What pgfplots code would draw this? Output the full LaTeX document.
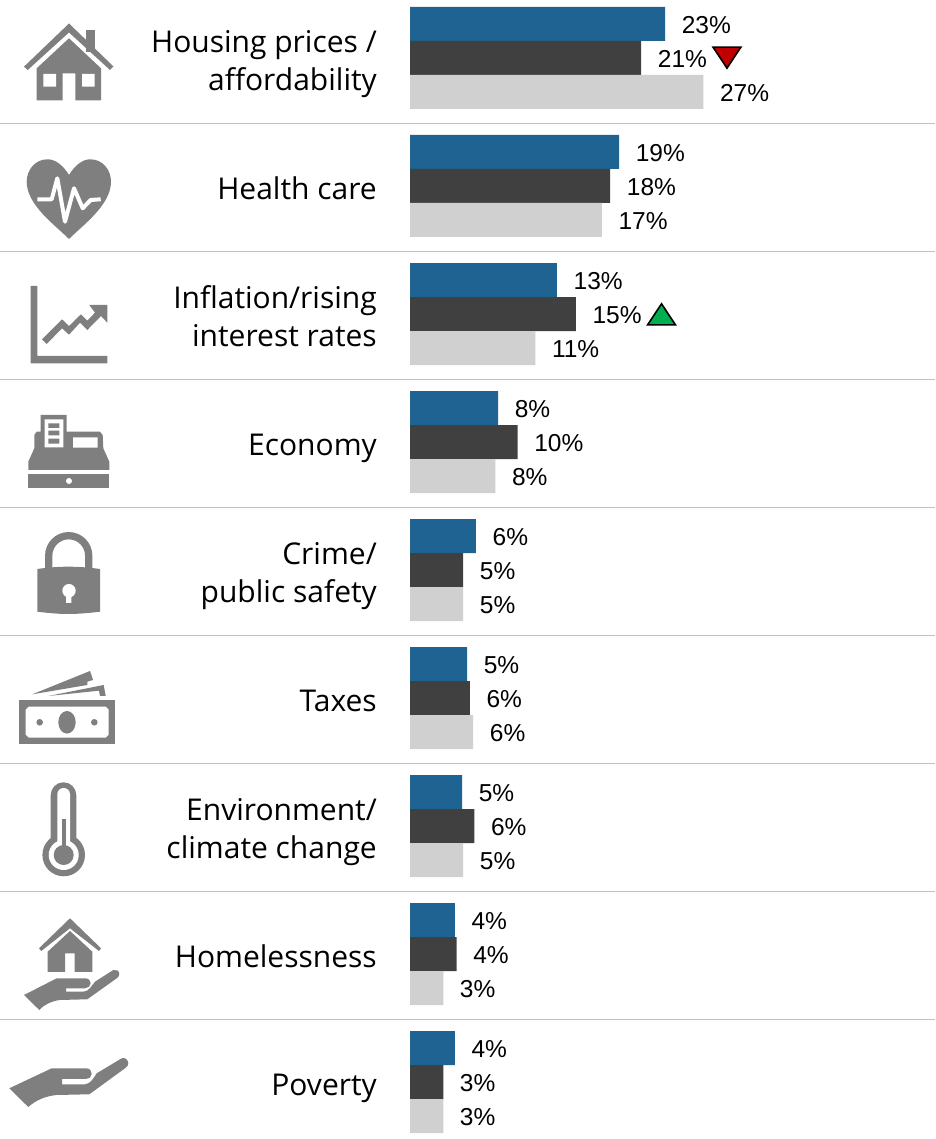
\documentclass[border=0pt]{standalone}
\usepackage{fontspec}
\setmainfont{Open Sans}
\newfontfamily\valfont{Liberation Sans}
\usepackage{pgfplots}
\usepackage{pgfplotstable}
\pgfplotsset{compat=1.18}

\definecolor{barblue}{HTML}{1F6392}
\definecolor{bardark}{HTML}{404040}
\definecolor{barlight}{HTML}{D0D0D0}
\definecolor{icongray}{HTML}{7F7F7F}
\definecolor{seprule}{HTML}{BFBFBF}
\definecolor{downred}{HTML}{C00000}
\definecolor{upgreen}{HTML}{00B050}

% bar length, position, printed label
\pgfplotstableread{
val pos lab
23.0 0 23
18.85 1 19
13.25 2 13
7.95 3 8
5.95 4 6
5.15 5 5
4.7 6 5
4.05 7 4
4.05 8 4
}\firstseries
\pgfplotstableread{
val pos lab
20.85 0 21
18.05 1 18
14.95 2 15
9.7 3 10
4.8 4 5
5.4 5 6
5.8 6 6
4.2 7 4
3.0 8 3
}\secondseries
\pgfplotstableread{
val pos lab
26.45 0 27
17.3 1 17
11.3 2 11
7.7 3 8
4.8 4 5
5.7 5 6
4.8 6 5
3.0 7 3
3.0 8 3
}\thirdseries

\begin{document}
\begin{tikzpicture}
\path[use as bounding box] (0,0) rectangle (935pt,1139pt);
\begin{axis}[
    at={(0,0)}, anchor=south west,
    scale only axis, width=935pt, height=1139pt,
    xmin=-36.97, xmax=47.34,
    ymin=-0.453, ymax=8.445, y dir=reverse,
    xbar, bar width=34pt,
    clip=false,
    axis x line=none,
    y axis line style={draw=none},
    major tick length=0pt,
    ytick={0,...,8},
    yticklabels={{\strut Housing prices /\\\strut affordability},\strut Health care,{\strut Inflation/rising\\\strut interest rates},\strut Economy,{\strut Crime/\\\strut public safety},\strut Taxes,{\strut Environment/\\\strut climate change},\strut Homelessness,\strut Poverty},
    yticklabel style={anchor=east, xshift=377pt, align=right, inner sep=0pt, font=\fontsize{30pt}{38pt}\selectfont, yshift=-5.5pt},
    point meta=explicit symbolic,
    nodes near coords={\pgfplotspointmeta\%},
    nodes near coords style={anchor=west, xshift=16.5pt, yshift=-1.5pt, inner sep=0pt, font=\valfont\fontsize{24.5pt}{26pt}\selectfont},
]
\addplot[draw=none, fill=barblue, bar shift=34pt] table[x=val, y=pos, meta=lab] {\firstseries};
\addplot[draw=none, fill=bardark, bar shift=0pt] table[x=val, y=pos, meta=lab] {\secondseries};
\addplot[draw=none, fill=barlight, bar shift=-34pt] table[x=val, y=pos, meta=lab] {\thirdseries};
% change markers
\addplot[xbar=false, only marks, nodes near coords={}, mark=triangle*, mark size=14pt,
    mark options={draw=black, line width=1.6pt, fill=downred, rotate=180, xscale=1.15}]
    coordinates {(28.58,-0.03)};
\addplot[xbar=false, only marks, nodes near coords={}, mark=triangle*, mark size=14pt,
    mark options={draw=black, line width=1.6pt, fill=upgreen, xscale=1.15}]
    coordinates {(22.68,2.03)};
\end{axis}

% separators and icons, in picture pixels from the top left
\begin{scope}[shift={(0,1139pt)}, x=1pt, y=-1pt]
\foreach \yy in {123.5,251.5,379.5,507.5,635.5,763.5,891.5,1019.5}
    \draw[seprule, line width=1.2pt] (0,\yy) -- (935,\yy);

% house
\fill[icongray] (69,23.5) -- (113.5,66.5) -- (110,70) -- (69,32.5) -- (27.7,70) -- (24,66.7) -- cycle;
\fill[icongray] (86,30) rectangle (94.7,52);
\fill[icongray] (69,38.3) -- (101,68.3) -- (101,100.3) -- (75.3,100.3) -- (75.3,73.3) -- (62.7,73.3) -- (62.7,100.3) -- (36.7,100.3) -- (36.7,68.3) -- cycle;
\fill[white] (43.3,74) rectangle (56,86.7) (82,74) rectangle (94.7,86.7);

% heart with pulse
\fill[icongray] (69,175) .. controls (63,165) and (55,159.3) .. (47.7,159.3)
    .. controls (35,159.3) and (26.7,170) .. (26.7,181.7)
    .. controls (26.7,205) and (55,225) .. (69,239)
    .. controls (83,225) and (111,205) .. (111,181.7)
    .. controls (111,170) and (103,159.3) .. (90,159.3)
    .. controls (83,159.3) and (75,165) .. (69,175) -- cycle;
\draw[white, line width=4pt, line join=round] (37.3,199.3) -- (51.7,199.3) -- (57.3,178.3) -- (65,221.7) -- (74,188.3) -- (82.7,208.3) -- (90.7,200) -- (100.7,199.3);

% rising chart
\fill[icongray] (30.7,286) -- (37.3,286) -- (37.3,356) -- (107.3,356) -- (107.3,363.3) -- (30.7,363.3) -- cycle;
\fill[icongray] (42,339.3) -- (62,319.3) -- (69,326) -- (81,314.3) -- (87.3,320.7) -- (95,312.7) -- (89.3,305) -- (107.3,305) -- (107.3,322.7) -- (101,316) -- (87.3,330) -- (80,322.7) -- (69,334.7) -- (62,328.3) -- (46.7,344) -- cycle;

% cash register
\fill[icongray] (40.7,415) -- (66.7,415) -- (66.7,431.7) -- (100,431.7) -- (102.7,435) -- (103.3,448.3) -- (109.3,461.7) -- (109.3,470) -- (28.3,470) -- (28.3,461.7) -- (34.3,448.3) -- (34.3,435) -- (36.7,431.7) -- (40.7,431.7) -- cycle;
\fill[white] (44.7,419.3) rectangle (63.3,447.3) (73,437.3) rectangle (97.7,447.7);
\fill[icongray] (48.3,423.3) rectangle (59.3,428) (48.3,430.7) rectangle (59.3,435.3) (48.3,438.7) rectangle (59.3,443.7);
\fill[icongray] (28.3,474.3) rectangle (109.3,488.3);
\fill[white] (69,481) circle (3pt);

% padlock
\draw[icongray, line width=7.3pt] (48.7,572) -- (48.7,555.7) arc[start angle=180, end angle=0, radius=20pt] -- (88.7,572);
\fill[icongray] (37.3,569) .. controls (48,567.5) and (58,566.7) .. (68.3,566.7) .. controls (79,566.7) and (89,567.5) .. (100,569)
    -- (100,611.7) .. controls (89,613) and (79,614) .. (68.3,614) .. controls (58,614) and (48,613) .. (37.3,611.7) -- cycle;
\fill[white] (69,590.7) circle (6.7pt) (66,594) rectangle (71.3,603);

% banknotes
\fill[icongray] (19,700.3) rectangle (115.3,744.3);
\fill[white] (28.7,706.7) -- (105.7,706.7) -- (108.7,709.7) -- (108.7,734.7) -- (105.7,737.7) -- (28.7,737.7) -- (25.7,734.7) -- (25.7,709.7) -- cycle;
\fill[icongray] (67,722.3) ellipse[x radius=8.7pt, y radius=11.3pt];
\fill[icongray] (39.7,722.3) circle (3.3pt) (94.3,722.3) circle (3.3pt);
\fill[icongray] (32.3,694.3) -- (90,671) -- (93,680) -- (87.3,681.7) -- (87.3,685) -- cycle;
\fill[icongray] (48.3,696) -- (103.7,685) -- (105.7,696) -- (100,696) -- (99,690.7) -- cycle;

% thermometer
\fill[icongray] (63.7,855) circle (21.3pt);
\fill[icongray] (50.7,860) -- (50.7,795.1) arc[start angle=180, end angle=0, radius=12.8pt] -- (76.3,860) -- cycle;
\fill[white] (63.7,855) circle (15pt);
\fill[white] (57.3,860) -- (57.3,794.3) arc[start angle=180, end angle=0, radius=6.35pt] -- (70,860) -- cycle;
\fill[icongray] (63.7,855) circle (10pt);
\fill[icongray] (61.7,819.3) rectangle (66,850);

% hand holding a house
\fill[icongray] (70,918.3) -- (101,948.3) -- (99,951) -- (70,928.3) -- (41.3,951) -- (39,948.3) -- cycle;
\fill[icongray] (70,931) -- (92.3,951.7) -- (92.3,972) -- (74.7,972) -- (74.7,953.3) -- (65,953.3) -- (65,972) -- (47.7,972) -- (47.7,951.7) -- cycle;
\fill[icongray] (24,995) -- (56.7,978.3) -- (85,978.3) .. controls (89,978.3) and (90.7,981) .. (90.7,983.3) .. controls (90.7,986) and (88,988.3) .. (85,988.3)
    -- (66,988.3) -- (66,991.7) -- (83.3,991.7) .. controls (89,991.7) and (92,985) .. (95,981.7) -- (113.3,970)
    .. controls (116,969) and (119.3,971) .. (119.3,974) .. controls (119.3,976) and (118,977.5) .. (116.7,978.3)
    -- (87.3,999.3) -- (60,1000) .. controls (52,1001) and (45,1004) .. (39.3,1010) -- cycle;

% open hand
\fill[icongray] (9.3,1088.3) -- (51.7,1068.3) -- (86,1068.3) .. controls (90,1068.3) and (91.7,1071) .. (91.7,1074) .. controls (91.7,1077) and (89,1079) .. (86,1079)
    -- (62,1079) -- (62,1084.3) -- (85,1084.3) .. controls (91,1084) and (94,1077) .. (96.7,1073.3) -- (121.7,1058.3)
    .. controls (125,1057) and (128.3,1060) .. (128.3,1063.3) .. controls (128.3,1065.5) and (127,1067) .. (125,1068.3)
    -- (89.3,1094.3) -- (56.7,1095) .. controls (46,1096) and (36,1100) .. (28.3,1107) -- cycle;
\end{scope}
\end{tikzpicture}
\end{document}
